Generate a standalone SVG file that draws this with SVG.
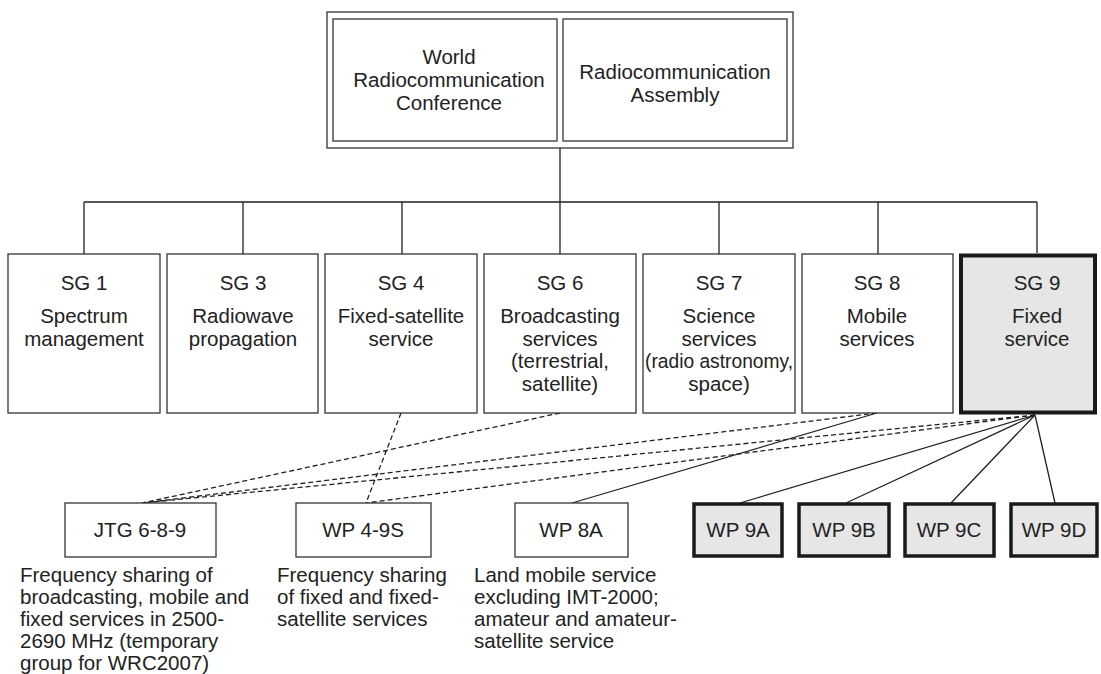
<svg xmlns="http://www.w3.org/2000/svg" width="1101" height="674" viewBox="0 0 1101 674">
<style>
text{font-family:"Liberation Sans",Arial,sans-serif;font-size:20.5px;fill:#222;text-anchor:middle}
.d{text-anchor:start}
.box{fill:#fff;stroke:#333;stroke-width:1.3}
.hl{fill:#e6e6e6;stroke:#1a1a1a;stroke-width:4}
.wp{fill:#e6e6e6;stroke:#1a1a1a;stroke-width:3.5}
.ln{fill:none;stroke:#222;stroke-width:1.3}
.ds{fill:none;stroke:#222;stroke-width:1.3;stroke-dasharray:5 3}
</style>
<rect width="1101" height="674" fill="#fff"/>
<g id="top">
<rect class="box" x="327" y="12" width="466" height="136"/>
<g id="wrc"><rect class="box" x="333" y="19" width="224" height="122"/>
<text x="449" y="64">World</text><text x="449" y="87">Radiocommunication</text><text x="449" y="110">Conference</text></g>
<g id="ra"><rect class="box" x="563" y="19" width="224" height="122"/>
<text x="675" y="79">Radiocommunication</text><text x="675" y="102">Assembly</text></g>
</g>
<g id="connectors">
<path class="ln" d="M560 148V202M84 202H1037M84 202V254M243 202V254M402 202V254M560 202V254M719 202V254M878 202V254M1037 202V253"/>
<path class="ds" d="M401 413L366 503M560 413L142 503M877 413L142 503M1035 415L142 503M1035 415L366 503"/>
<path class="ln" d="M877 413L572 503M1035 415L740 503M1035 415L846 503M1035 415L951 503M1035 415L1055 503"/>
</g>
<g id="sg1"><rect class="box" x="8" y="254" width="152" height="159"/><text x="84" y="290">SG 1</text><text x="84" y="323">Spectrum</text><text x="84" y="346">management</text></g>
<g id="sg3"><rect class="box" x="167" y="254" width="151" height="159"/><text x="243" y="290">SG 3</text><text x="243" y="323">Radiowave</text><text x="243" y="346">propagation</text></g>
<g id="sg4"><rect class="box" x="325" y="254" width="152" height="159"/><text x="401" y="290">SG 4</text><text x="401" y="323">Fixed-satellite</text><text x="401" y="346">service</text></g>
<g id="sg6"><rect class="box" x="484" y="254" width="152" height="159"/><text x="560" y="290">SG 6</text><text x="560" y="323">Broadcasting</text><text x="560" y="346">services</text><text x="560" y="368">(terrestrial,</text><text x="560" y="391">satellite)</text></g>
<g id="sg7"><rect class="box" x="643" y="254" width="152" height="159"/><text x="719" y="290">SG 7</text><text x="719" y="323">Science</text><text x="719" y="346">services</text><text x="719" y="368" textLength="148" lengthAdjust="spacingAndGlyphs">(radio astronomy,</text><text x="719" y="391">space)</text></g>
<g id="sg8"><rect class="box" x="802" y="254" width="151" height="159"/><text x="877" y="290">SG 8</text><text x="877" y="323">Mobile</text><text x="877" y="346">services</text></g>
<g id="sg9"><rect class="hl" x="961" y="255.5" width="134" height="157"/><text x="1037" y="290">SG 9</text><text x="1037" y="323">Fixed</text><text x="1037" y="346">service</text></g>
<g id="jtg"><rect class="box" x="65" y="503" width="151" height="54"/><text x="140" y="537">JTG 6-8-9</text>
<text class="d" x="20" y="582">Frequency sharing of</text><text class="d" x="20" y="604">broadcasting, mobile and</text><text class="d" x="20" y="626">fixed services in 2500-</text><text class="d" x="20" y="648">2690 MHz (temporary</text><text class="d" x="20" y="670">group for WRC2007)</text></g>
<g id="wp49s"><rect class="box" x="296" y="503" width="135" height="54"/><text x="363" y="537">WP 4-9S</text>
<text class="d" x="277" y="582">Frequency sharing</text><text class="d" x="277" y="604">of fixed and fixed-</text><text class="d" x="277" y="626">satellite services</text></g>
<g id="wp8a"><rect class="box" x="515" y="503" width="113" height="54"/><text x="571" y="537">WP 8A</text>
<text class="d" x="474" y="582">Land mobile service</text><text class="d" x="474" y="604">excluding IMT-2000;</text><text class="d" x="474" y="626">amateur and amateur-</text><text class="d" x="474" y="648">satellite service</text></g>
<g id="wp9a"><rect class="wp" x="694" y="504" width="88" height="52"/><text x="738" y="537">WP 9A</text></g>
<g id="wp9b"><rect class="wp" x="799" y="504" width="90" height="52"/><text x="844" y="537">WP 9B</text></g>
<g id="wp9c"><rect class="wp" x="905" y="504" width="89" height="52"/><text x="949" y="537">WP 9C</text></g>
<g id="wp9d"><rect class="wp" x="1011" y="504" width="86" height="52"/><text x="1054" y="537">WP 9D</text></g>
</svg>
